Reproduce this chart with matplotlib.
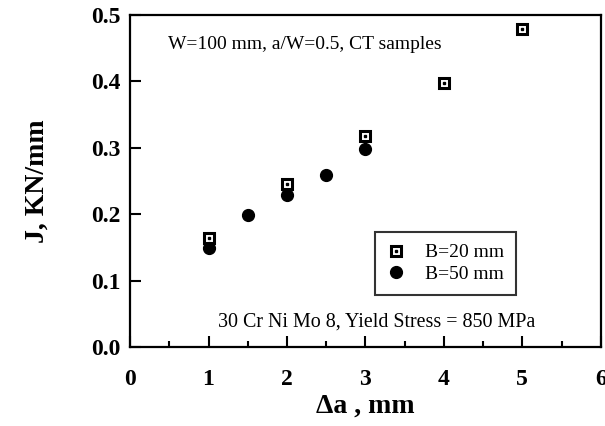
import numpy as np
import matplotlib.pyplot as plt
from matplotlib.legend_handler import HandlerTuple

# B=20 mm (open squares with dot)
da_20 = [1, 2, 3, 4, 5]
j_20 = [0.164, 0.245, 0.318, 0.398, 0.479]
# B=50 mm (filled)
da_50 = [1, 1.5, 2, 2.5, 3]
j_50 = [0.149, 0.199, 0.229, 0.259, 0.298]

plt.rcParams['font.family'] = 'Liberation Serif'

fig = plt.figure(figsize=(6.05, 4.26), dpi=100)
ax = fig.add_axes([0.215, 0.185, 0.778, 0.78])

h1, = ax.plot(da_20, j_20, ls='none', marker='s', ms=7, mfc='white', mec='black', mew=2.2)
h1b, = ax.plot(da_20, j_20, ls='none', marker='s', ms=1.8, color='black')
h2, = ax.plot(da_50, j_50, ls='none', marker='o', ms=8.5, color='black')

ax.set_xlim(0, 6)
ax.set_ylim(0, 0.5)
ax.set_xticks(np.arange(0, 7, 1))
ax.set_xticks(np.arange(0.5, 6, 1), minor=True)
ax.set_yticks(np.arange(0, 0.51, 0.1))
ax.set_yticklabels(['0.0', '0.1', '0.2', '0.3', '0.4', '0.5'])
ax.tick_params(axis='both', which='major', direction='in', length=8, width=1.5,
               labelsize=17)
ax.tick_params(axis='x', which='major', pad=16)
ax.tick_params(axis='y', which='major', pad=7)
ax.tick_params(axis='x', which='minor', direction='in', length=4, width=1.5)
for lab in ax.get_xticklabels() + ax.get_yticklabels():
    lab.set_fontweight('bold')
for sp in ax.spines.values():
    sp.set_linewidth(1.6)

ax.set_xlabel('\u0394a , mm', fontsize=20, fontweight='bold', labelpad=2)
ax.set_ylabel('J, KN/mm', fontsize=20, fontweight='bold', labelpad=30)

ax.text(0.48, 0.455, 'W=100 mm, a/W=0.5, CT samples', fontsize=14, va='center')
ax.text(1.12, 0.038, '30 Cr Ni Mo 8, Yield Stress = 850 MPa', fontsize=14.4, va='center')

leg = ax.legend([(h1, h1b), h2], ['B=20 mm', 'B=50 mm'],
                handler_map={tuple: HandlerTuple(ndivide=1)},
                loc='upper left', bbox_to_anchor=(0.52, 0.346), borderaxespad=0,
                fontsize=14, frameon=True, fancybox=False, edgecolor='black',
                handlelength=1.0, handletextpad=1.0, borderpad=0.6,
                labelspacing=0.2)
leg.get_frame().set_linewidth(1.5)

fig.savefig('out.png', dpi=100)
